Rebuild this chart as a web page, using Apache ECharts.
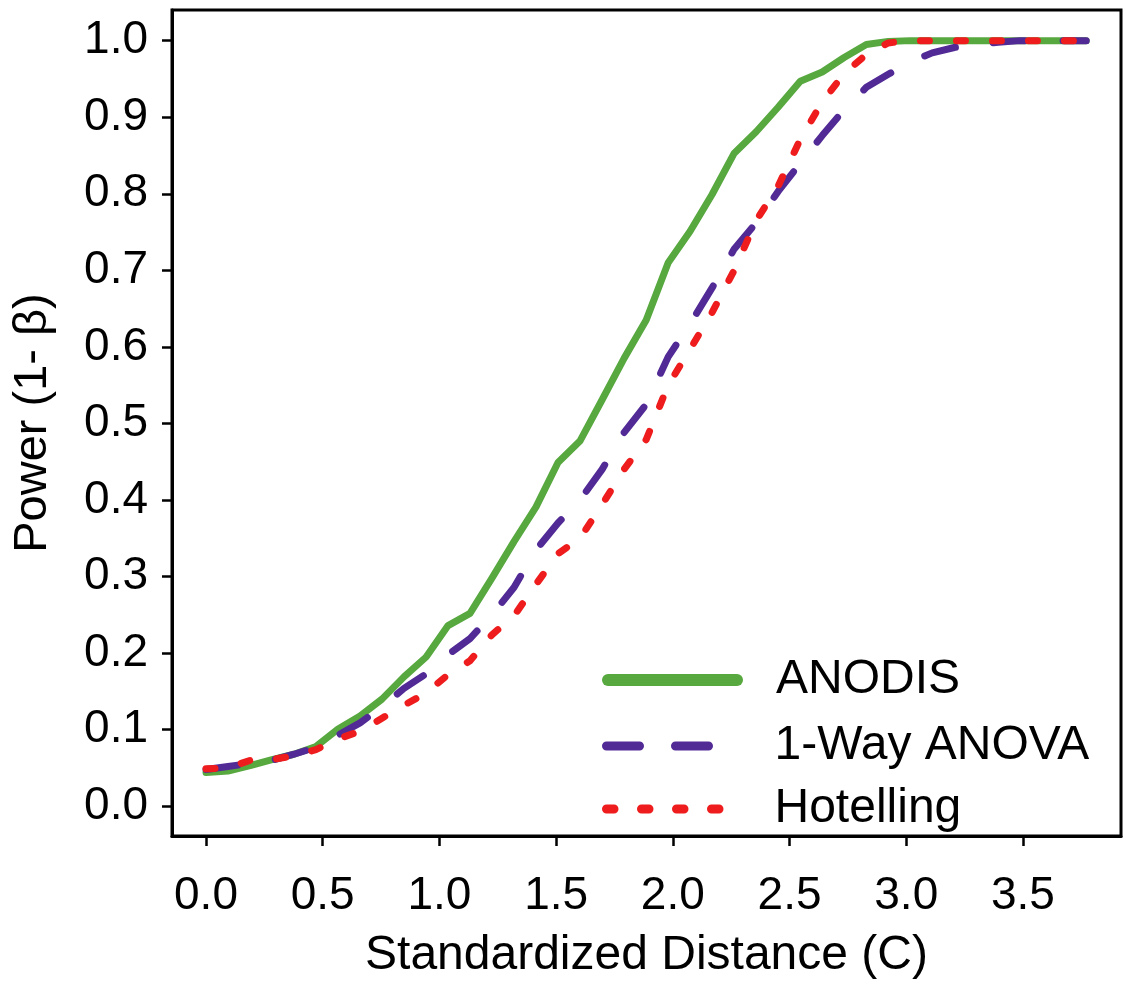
<!DOCTYPE html>
<html>
<head>
<meta charset="utf-8">
<script src="https://cdn.jsdelivr.net/npm/echarts@6/dist/echarts.min.js"></script>
<style>
html,body{margin:0;padding:0;background:#fff;}
#chart{width:1126px;height:985px;}
</style>
</head>
<body>
<div id="chart"></div>
<script>
// Standardized distance (C)
const distance = [0, 0.094, 0.189, 0.283, 0.377, 0.471, 0.566, 0.660, 0.754, 0.848,
  0.943, 1.037, 1.131, 1.225, 1.320, 1.414, 1.508, 1.602, 1.697, 1.791,
  1.886, 1.980, 2.074, 2.168, 2.263, 2.357, 2.451, 2.546, 2.640, 2.734,
  2.829, 2.923, 3.017, 3.111, 3.206, 3.300, 3.394, 3.489, 3.583, 3.677, 3.771];
const anodis = [0.044, 0.046, 0.053, 0.061, 0.068, 0.078, 0.101, 0.118, 0.140, 0.169,
  0.195, 0.236, 0.252, 0.298, 0.346, 0.391, 0.449, 0.477, 0.531, 0.585,
  0.635, 0.710, 0.751, 0.799, 0.853, 0.881, 0.913, 0.947, 0.959, 0.978,
  0.995, 0.999, 1.0, 1.0, 1.0, 1.0, 1.0, 1.0, 1.0, 1.0, 1.0];
const anova = [0.048, 0.052, 0.056, 0.060, 0.068, 0.077, 0.093, 0.109, 0.130, 0.154,
  0.173, 0.198, 0.219, 0.250, 0.286, 0.335, 0.370, 0.400, 0.440, 0.488,
  0.525, 0.587, 0.630, 0.677, 0.728, 0.762, 0.803, 0.840, 0.876, 0.910,
  0.939, 0.956, 0.972, 0.984, 0.991, 0.995, 0.998, 1.0, 1.0, 1.0, 1.0];
const hotelling = [0.049, 0.050, 0.060, 0.061, 0.066, 0.074, 0.088, 0.098, 0.115, 0.132,
  0.148, 0.172, 0.190, 0.224, 0.249, 0.290, 0.330, 0.350, 0.394, 0.440,
  0.479, 0.550, 0.597, 0.645, 0.700, 0.765, 0.810, 0.871, 0.920, 0.957,
  0.982, 0.997, 1.0, 1.0, 1.0, 1.0, 1.0, 1.0, 1.0, 1.0, 1.0];
const xTicks = [0, 0.5, 1.0, 1.5, 2.0, 2.5, 3.0, 3.5];
const yTicks = [0, 0.1, 0.2, 0.3, 0.4, 0.5, 0.6, 0.7, 0.8, 0.9, 1.0];
const seriesNames = ['ANODIS', '1-Way ANOVA', 'Hotelling'];

const FONT = 'Arial, "Liberation Sans", Helvetica, sans-serif';
const pairs = ys => distance.map((x, i) => [x, ys[i]]);

const chart = echarts.init(document.getElementById('chart'), null, {renderer: 'canvas'});

function legendFor(name, top, lineStyle) {
  return {
    data: [name],
    left: 597,
    top: top,
    padding: 5,
    itemWidth: 129,
    itemHeight: 50,
    selectedMode: false,
    itemStyle: {opacity: 0, borderWidth: 0},
    lineStyle: lineStyle,
    textStyle: {fontSize: 48, fontFamily: FONT, color: '#000', padding: [0, 0, 0, 34]}
  };
}

chart.setOption({
  animation: false,
  backgroundColor: '#fff',
  grid: {
    left: 172, right: 5, top: 10, bottom: 141,
    show: true, borderColor: '#000', borderWidth: 3, backgroundColor: 'transparent',
    containLabel: false
  },
  legend: [
    legendFor(seriesNames[0], 651, {width: 12, type: 'solid', cap: 'round'}),
    legendFor(seriesNames[1], 717, {width: 9, type: [33, 36], cap: 'round'}),
    legendFor(seriesNames[2], 780, {width: 9, type: [7.5, 27.5], cap: 'round'})
  ],
  xAxis: {
    type: 'value',
    min: -0.1457, max: 3.920,
    name: 'Standardized Distance (C)',
    nameLocation: 'middle',
    nameGap: 96,
    nameTextStyle: {fontSize: 48, fontFamily: FONT, color: '#000'},
    axisLine: {show: true, onZero: false, lineStyle: {color: '#000', width: 3}},
    axisTick: {show: true, inside: false, length: 10, customValues: xTicks, lineStyle: {color: '#000', width: 2.5}},
    axisLabel: {show: true, margin: 37, customValues: xTicks, fontSize: 46, fontFamily: FONT, color: '#000',
      formatter: v => Number(v).toFixed(1)},
    splitLine: {show: false}
  },
  yAxis: {
    type: 'value',
    min: -0.0388, max: 1.040,
    name: 'Power (1- \u03B2)',
    nameLocation: 'middle',
    nameGap: 115,
    nameTextStyle: {fontSize: 47, fontFamily: FONT, color: '#000'},
    axisLine: {show: true, onZero: false, lineStyle: {color: '#000', width: 3}},
    axisTick: {show: true, inside: false, length: 10, customValues: yTicks, lineStyle: {color: '#000', width: 2.5}},
    axisLabel: {show: true, margin: 24, customValues: yTicks, fontSize: 46, fontFamily: FONT, color: '#000',
      formatter: v => Number(v).toFixed(1)},
    splitLine: {show: false}
  },
  series: [
    {
      name: seriesNames[0], type: 'line', data: pairs(anodis), showSymbol: false, symbol: 'none',
      lineStyle: {color: '#57a83f', width: 7, type: 'solid', cap: 'round', join: 'round'},
      itemStyle: {color: '#57a83f'}
    },
    {
      name: seriesNames[1], type: 'line', data: pairs(anova), showSymbol: false, symbol: 'none',
      lineStyle: {color: '#522a96', width: 7, type: [32, 38], cap: 'round', join: 'round'},
      itemStyle: {color: '#522a96'}
    },
    {
      name: seriesNames[2], type: 'line', data: pairs(hotelling), showSymbol: false, symbol: 'none',
      lineStyle: {color: '#ee1c1c', width: 7, type: [9, 27], cap: 'round', join: 'round'},
      itemStyle: {color: '#ee1c1c'}
    }
  ]
});
</script>
</body>
</html>
